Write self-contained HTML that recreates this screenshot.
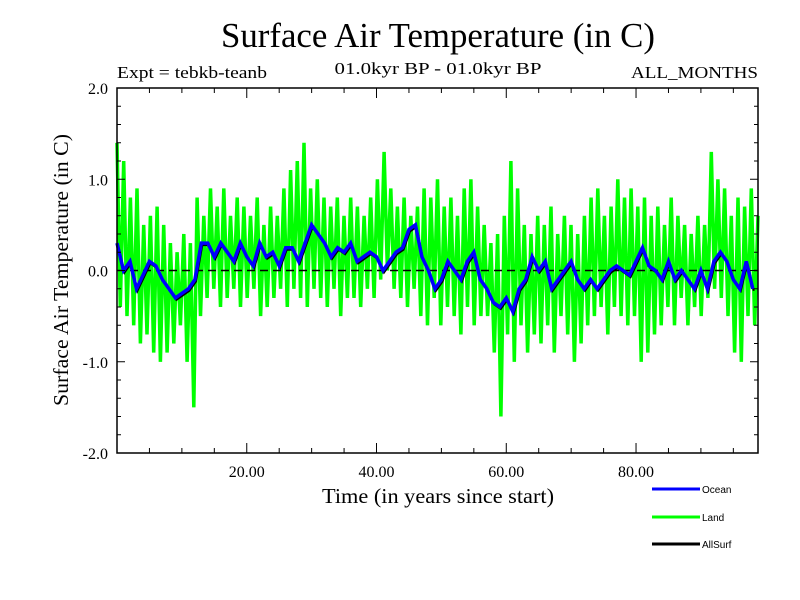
<!DOCTYPE html>
<html><head><meta charset="utf-8"><title>Surface Air Temperature</title>
<style>body{margin:0;background:#fff}svg{display:block}</style></head>
<body>
<svg id="chart" width="800" height="600" viewBox="0 0 800 600" xmlns="http://www.w3.org/2000/svg" font-family="'Liberation Serif', serif">
<text x="438" y="47" text-anchor="middle" font-size="35" textLength="434" lengthAdjust="spacingAndGlyphs">Surface Air Temperature (in C)</text>
<text x="117" y="78" font-size="17" textLength="150" lengthAdjust="spacingAndGlyphs">Expt = tebkb-teanb</text>
<text x="438" y="74" text-anchor="middle" font-size="17" textLength="207" lengthAdjust="spacingAndGlyphs">01.0kyr BP - 01.0kyr BP</text>
<text x="758" y="78" text-anchor="end" font-size="17" textLength="127" lengthAdjust="spacingAndGlyphs">ALL_MONTHS</text>
<text x="438" y="503" text-anchor="middle" font-size="21" textLength="232" lengthAdjust="spacingAndGlyphs">Time (in years since start)</text>
<text transform="translate(68,270) rotate(-90)" text-anchor="middle" font-size="21" textLength="272" lengthAdjust="spacingAndGlyphs">Surface Air Temperature (in C)</text>
<g id="plot"></g>
<g id="axes"></g>
<g font-family="'Liberation Sans', sans-serif" font-size="10">
<g><line x1="652" y1="489" x2="700" y2="489" stroke="#0000ff" stroke-width="3"/><text x="702" y="493">Ocean</text></g>
<g><line x1="652" y1="517" x2="700" y2="517" stroke="#00ff00" stroke-width="3"/><text x="702" y="521">Land</text></g>
<g><line x1="652" y1="544" x2="700" y2="544" stroke="#000" stroke-width="3"/><text x="702" y="548">AllSurf</text></g>
</g>
</svg>
<script>
const yTicks = [2.0, 1.0, 0.0, -1.0, -2.0];
const yTickLabels = ["2.0", "1.0", "0.0", "-1.0", "-2.0"];
const xTicks = [20, 40, 60, 80];
const xTickLabels = ["20.00", "40.00", "60.00", "80.00"];
const oceanYears = [0,1,2,3,4,5,6,7,8,9,10,11,12,13,14,15,16,17,18,19,20,21,22,23,24,25,26,27,28,29,30,31,32,33,34,35,36,37,38,39,40,41,42,43,44,45,46,47,48,49,50,51,52,53,54,55,56,57,58,59,60,61,62,63,64,65,66,67,68,69,70,71,72,73,74,75,76,77,78,79,80,81,82,83,84,85,86,87,88,89,90,91,92,93,94,95,96,97,98];
const ocean = [0.3,0.0,0.1,-0.2,-0.05,0.1,0.05,-0.1,-0.2,-0.3,-0.25,-0.2,-0.1,0.3,0.3,0.15,0.3,0.2,0.1,0.3,0.15,0.05,0.3,0.15,0.2,0.05,0.25,0.25,0.1,0.3,0.5,0.4,0.3,0.15,0.25,0.2,0.3,0.1,0.15,0.2,0.15,0.0,0.1,0.2,0.25,0.45,0.5,0.15,0.0,-0.2,-0.1,0.1,0.0,-0.1,0.1,0.2,-0.1,-0.2,-0.35,-0.4,-0.3,-0.45,-0.2,-0.1,0.15,0.0,0.1,-0.2,-0.1,0.0,0.1,-0.1,-0.2,-0.1,-0.2,-0.1,0.0,0.05,0.0,-0.05,0.1,0.25,0.05,0.0,-0.1,0.1,-0.1,0.0,-0.1,-0.2,0.0,-0.2,0.1,0.2,0.1,-0.1,-0.2,0.1,-0.2];
const land = [1.4,-0.4,1.2,-0.5,0.8,-0.6,0.9,-0.8,0.5,-0.7,0.6,-0.9,0.7,-1.0,0.5,-0.9,0.3,-0.8,0.2,-0.6,0.4,-1.0,0.3,-1.5,0.8,-0.5,0.6,-0.3,0.9,-0.2,0.7,-0.4,0.9,-0.3,0.6,-0.2,0.8,-0.4,0.7,-0.3,0.6,-0.2,0.8,-0.5,0.5,-0.4,0.7,-0.3,0.6,-0.2,0.9,-0.4,1.1,-0.2,1.2,-0.3,1.4,-0.4,0.9,-0.2,1.0,-0.3,0.8,-0.4,0.7,-0.2,0.8,-0.5,0.6,-0.3,0.8,-0.3,0.7,-0.4,0.6,-0.2,0.8,-0.3,1.0,-0.1,1.3,0.0,0.9,-0.2,0.7,-0.3,0.8,-0.4,0.6,-0.2,0.7,-0.5,0.9,-0.6,0.8,-0.3,1.0,-0.6,0.7,-0.4,0.8,-0.5,0.6,-0.7,0.9,-0.4,1.0,-0.6,0.7,-0.5,0.5,-0.5,0.3,-0.9,0.4,-1.6,0.6,-0.7,1.2,-1.0,0.9,-0.6,0.5,-0.9,0.4,-0.7,0.6,-0.8,0.5,-0.6,0.7,-0.9,0.4,-0.5,0.6,-0.7,0.5,-1.0,0.4,-0.8,0.6,-0.6,0.8,-0.5,0.9,-0.4,0.6,-0.7,0.7,-0.4,1.0,-0.5,0.8,-0.6,0.9,-0.5,0.7,-1.0,0.8,-0.9,0.6,-0.7,0.7,-0.6,0.5,-0.4,0.8,-0.6,0.6,-0.3,0.5,-0.6,0.4,-0.4,0.6,-0.5,0.5,-0.3,1.3,-0.2,1.0,-0.3,0.9,-0.5,0.6,-0.9,0.8,-1.0,0.7,-0.5,0.9,-0.6,0.6];

const X0 = 117, X1 = 758, Y0 = 88, Y1 = 453, XMAX = 98.8, YMIN = -2, YMAX = 2;
const sx = v => X0 + (v / XMAX) * (X1 - X0);
const sy = v => Y1 - (v - YMIN) / (YMAX - YMIN) * (Y1 - Y0);
const landStep = XMAX / (land.length - 1);
const NS = "http://www.w3.org/2000/svg";
const plot = document.getElementById('plot');
const axes = document.getElementById('axes');
function mk(tag, attrs, parent) {
  const e = document.createElementNS(NS, tag);
  for (const k in attrs) e.setAttribute(k, attrs[k]);
  parent.appendChild(e);
  return e;
}
let d = '';
land.forEach((v, i) => { const x = Math.min(sx(i * landStep), X1); d += (i ? 'L' : 'M') + x.toFixed(1) + ',' + sy(v).toFixed(1); });
const landPath = mk('path', {d: d, fill: 'none', stroke: '#00ff00', 'stroke-width': 3.5}, plot);


const zl = mk('line', {x1: X0, x2: X1, y1: sy(0), y2: sy(0), stroke: '#000', 'stroke-width': 1.5, 'stroke-dasharray': '8,5'}, plot);


let od = '';
ocean.forEach((v, i) => { od += (i ? 'L' : 'M') + sx(oceanYears[i]).toFixed(1) + ',' + sy(v).toFixed(1); });
const allPath = mk('path', {d: od, fill: 'none', stroke: '#000', 'stroke-width': 2, transform: 'translate(1,2)'}, plot);


const oPath = mk('path', {d: od, fill: 'none', stroke: '#0000ff', 'stroke-width': 3.5}, plot);


const fr = mk('rect', {x: X0, y: Y0, width: X1 - X0, height: Y1 - Y0, fill: 'none', stroke: '#000', 'stroke-width': 1.5}, axes);


for (let k = 0; k <= 20; k++) {
  const v = YMIN + k * 0.2, y = sy(v), len = (k % 5 === 0) ? 8 : 4;
  mk('line', {x1: X0, x2: X0 + len, y1: y, y2: y, stroke: '#000'}, axes);
  mk('line', {x1: X1, x2: X1 - len, y1: y, y2: y, stroke: '#000'}, axes);
}
yTicks.forEach((v, i) => {
  const t = mk('text', {x: 108, y: sy(v) + 6, 'text-anchor': 'end', 'font-size': 16}, axes);
  t.textContent = yTickLabels[i];
  
  
});
for (let v = 5; v < XMAX; v += 5) {
  const x = sx(v), len = (v % 20 === 0) ? 10 : 5;
  mk('line', {x1: x, x2: x, y1: Y1, y2: Y1 - len, stroke: '#000'}, axes);
  mk('line', {x1: x, x2: x, y1: Y0, y2: Y0 + len, stroke: '#000'}, axes);
}
xTicks.forEach((v, i) => {
  const t = mk('text', {x: sx(v), y: 477, 'text-anchor': 'middle', 'font-size': 16}, axes);
  t.textContent = xTickLabels[i];
  
  
});
</script>
</body></html>
